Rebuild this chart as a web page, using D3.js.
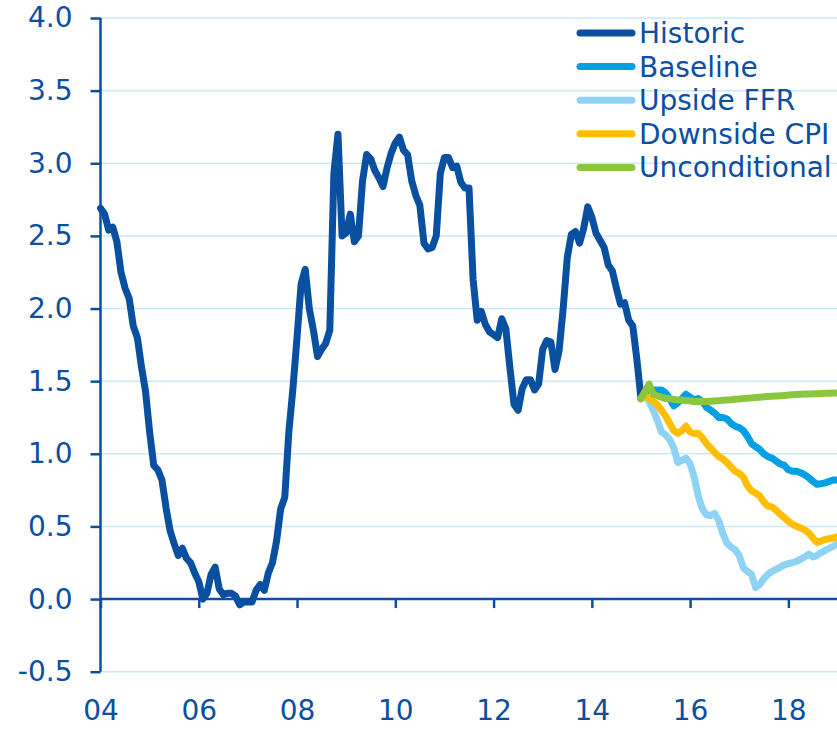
<!DOCTYPE html>
<html lang="en">
    <head>
        <meta charset="utf-8">
        <title>Scenarios</title>
        <script src="https://d3js.org/d3.v7.min.js"></script>
        <style type="text/css">
body {
    margin: 0;
    background: #ffffff;
}
text {
    font-family: "DejaVu Sans", sans-serif;
    fill: #0b4ea2;
}
        </style>
    </head>
    <body>
    <script type="text/javascript">
    //1. Data (monthly, historic from Jan 2004, forecasts from Jan 2015)
    const historic = [
        2.69, 2.65, 2.54, 2.56, 2.46, 2.25, 2.14, 2.07, 1.88, 1.80, 1.60, 1.43,
        1.15, 0.92, 0.89, 0.82, 0.63, 0.47, 0.38, 0.30, 0.35, 0.28, 0.25, 0.18,
        0.12, 0.00, 0.04, 0.17, 0.22, 0.07, 0.03, 0.04, 0.04, 0.02, -0.04, -0.02,
        -0.02, -0.02, 0.06, 0.10, 0.06, 0.18, 0.25, 0.40, 0.62, 0.70, 1.15, 1.45,
        1.80, 2.17, 2.27, 2.00, 1.85, 1.67, 1.72, 1.76, 1.85, 2.93, 3.20, 2.50,
        2.52, 2.65, 2.46, 2.50, 2.88, 3.06, 3.03, 2.95, 2.90, 2.84, 2.97, 3.07,
        3.14, 3.18, 3.09, 3.06, 2.88, 2.78, 2.71, 2.45, 2.41, 2.42, 2.50, 2.93,
        3.04, 3.04, 2.97, 2.98, 2.87, 2.83, 2.83, 2.20, 1.92, 1.98, 1.89, 1.84,
        1.82, 1.80, 1.93, 1.86, 1.59, 1.34, 1.30, 1.45, 1.51, 1.51, 1.44, 1.48,
        1.72, 1.78, 1.77, 1.58, 1.71, 2.00, 2.35, 2.51, 2.53, 2.45, 2.55, 2.70,
        2.63, 2.52, 2.47, 2.42, 2.30, 2.26, 2.14, 2.03, 2.04, 1.92, 1.88, 1.65,
        1.38
    ];
    const baseline = [
        1.38, 1.42, 1.45, 1.44, 1.44, 1.44, 1.42, 1.38, 1.33, 1.35, 1.38, 1.41,
        1.39, 1.37, 1.38, 1.36, 1.32, 1.30, 1.28, 1.25, 1.25, 1.24, 1.21, 1.19,
        1.18, 1.16, 1.12, 1.07, 1.05, 1.03, 1.00, 0.98, 0.97, 0.95, 0.93, 0.92,
        0.89, 0.88, 0.88, 0.87, 0.855, 0.835, 0.81, 0.79, 0.795, 0.80, 0.81, 0.82,
        0.82
    ];
    const upsideFFR = [
        1.38, 1.40, 1.36, 1.30, 1.23, 1.15, 1.13, 1.10, 1.04, 0.94, 0.955, 0.97,
        0.93, 0.84, 0.71, 0.62, 0.58, 0.575, 0.59, 0.54, 0.45, 0.385, 0.36, 0.34,
        0.30, 0.215, 0.19, 0.17, 0.08, 0.10, 0.14, 0.17, 0.19, 0.205, 0.22, 0.235,
        0.245, 0.25, 0.26, 0.275, 0.29, 0.31, 0.29, 0.30, 0.32, 0.335, 0.35, 0.365,
        0.38
    ];
    const downsideCPI = [
        1.38, 1.40, 1.38, 1.36, 1.34, 1.30, 1.26, 1.21, 1.16, 1.14, 1.16, 1.19,
        1.15, 1.14, 1.14, 1.11, 1.07, 1.04, 1.01, 0.98, 0.965, 0.94, 0.91, 0.88,
        0.865, 0.84, 0.78, 0.745, 0.73, 0.71, 0.67, 0.64, 0.635, 0.61, 0.585, 0.56,
        0.535, 0.515, 0.50, 0.49, 0.475, 0.455, 0.42, 0.39, 0.40, 0.41, 0.415, 0.42,
        0.43
    ];
    const unconditional = [
        1.38, 1.43, 1.48, 1.41, 1.40, 1.39, 1.38, 1.38, 1.375, 1.37, 1.37, 1.365,
        1.365, 1.36, 1.36, 1.36, 1.36, 1.362, 1.364, 1.366, 1.368, 1.37, 1.372, 1.375,
        1.378, 1.38, 1.383, 1.385, 1.387, 1.39, 1.392, 1.394, 1.396, 1.398, 1.40, 1.402,
        1.404, 1.406, 1.408, 1.41, 1.411, 1.412, 1.413, 1.414, 1.415, 1.416, 1.417, 1.418,
        1.419
    ];
    const seriesNames = ["Historic", "Baseline", "Upside FFR", "Downside CPI", "Unconditional"];
    const seriesColors = ["#0a50a1", "#00a0e2", "#8ed3f3", "#ffbf00", "#8cc63e"];
    const yTicks = [-0.5, 0, 0.5, 1, 1.5, 2, 2.5, 3, 3.5, 4];
    const xTicks = [2004, 2006, 2008, 2010, 2012, 2014, 2016, 2018];

    //2. Constants for the svg
    const svgWidth = 837;
    const svgHeight = 729;
    const plotLeft = 100.5;
    const plotRight = 837.5;
    const plotTop = 18;
    const plotBottom = 671.7;
    const darkBlue = "#0b4ea2";

    //3. Scales
    const xScale = d3.scaleLinear()
        .domain([2004, 2019])
        .range([plotLeft, plotRight]);

    const yScale = d3.scaleLinear()
        .domain([-0.5, 4])
        .range([plotBottom, plotTop]);

    //4. svg
    const svg = d3.select("body")
        .append("svg")
        .attr("width", svgWidth)
        .attr("height", svgHeight);

    //5. Gridlines + y-axis
    svg.append("g")
        .selectAll("line")
        .data(yTicks)
        .join("line")
        .attr("x1", plotLeft)
        .attr("x2", svgWidth)
        .attr("y1", d => yScale(d))
        .attr("y2", d => yScale(d))
        .attr("stroke", "#c8e9f8")
        .attr("stroke-width", 1.5);

    const yAxis = d3.axisLeft(yScale)
        .tickValues(yTicks)
        .tickFormat(d => d3.format(".1f")(d).replace("\u2212", "-"))
        .tickSize(10)
        .tickPadding(18);

    const yG = svg.append("g")
        .attr("transform", "translate(" + plotLeft + ",0)")
        .call(yAxis);
    yG.select(".domain").attr("stroke", darkBlue).attr("stroke-width", 2.5)
        .attr("d", "M0," + yScale(4) + "V" + yScale(-0.5));
    yG.selectAll(".tick line").attr("stroke", darkBlue).attr("stroke-width", 2.5);
    yG.selectAll(".tick text")
        .attr("font-size", 28)
        .attr("font-family", "DejaVu Sans")
        .attr("fill", darkBlue);

    //6. x-axis at zero
    const xAxis = d3.axisBottom(xScale)
        .tickValues(xTicks)
        .tickFormat(d => String(d).slice(2))
        .tickSizeOuter(0)
        .tickSize(9);

    const xG = svg.append("g")
        .attr("transform", "translate(0," + yScale(0) + ")")
        .call(xAxis);
    xG.select(".domain").attr("stroke", darkBlue).attr("stroke-width", 2.5)
        .attr("d", "M" + plotLeft + ",0H" + svgWidth);
    xG.selectAll(".tick line").attr("stroke", darkBlue).attr("stroke-width", 2.5);
    xG.selectAll(".tick text")
        .attr("font-size", 28)
        .attr("font-family", "DejaVu Sans")
        .attr("fill", darkBlue)
        .attr("dy", 0)
        .attr("y", yScale(-0.5) - yScale(0) + 48);

    //7. Lines
    const line = d3.line()
        .x(d => xScale(d.t))
        .y(d => yScale(d.v));

    function monthly(values, startYear) {
        return values.map((v, i) => ({t: startYear + i / 12, v: v}));
    }

    const allSeries = [
        monthly(historic, 2004),
        monthly(baseline, 2015),
        monthly(upsideFFR, 2015),
        monthly(downsideCPI, 2015),
        monthly(unconditional, 2015)
    ];

    svg.append("g")
        .selectAll("path")
        .data(allSeries)
        .join("path")
        .attr("d", d => line(d))
        .attr("fill", "none")
        .attr("stroke", (d, i) => seriesColors[i])
        .attr("stroke-width", 7)
        .attr("stroke-linejoin", "round")
        .attr("stroke-linecap", "round");

    //8. Legend
    const legend = svg.append("g")
        .attr("transform", "translate(578,33)");

    const rows = legend.selectAll("g")
        .data(seriesNames)
        .join("g")
        .attr("transform", (d, i) => "translate(0," + (i * 33.6) + ")");

    rows.append("line")
        .attr("x1", 2)
        .attr("x2", 54)
        .attr("stroke", (d, i) => seriesColors[i])
        .attr("stroke-width", 7)
        .attr("stroke-linecap", "round");

    rows.append("text")
        .attr("x", 61)
        .attr("y", 10)
        .attr("font-size", 28)
        .text(d => d);
    </script>
    </body>
</html>
